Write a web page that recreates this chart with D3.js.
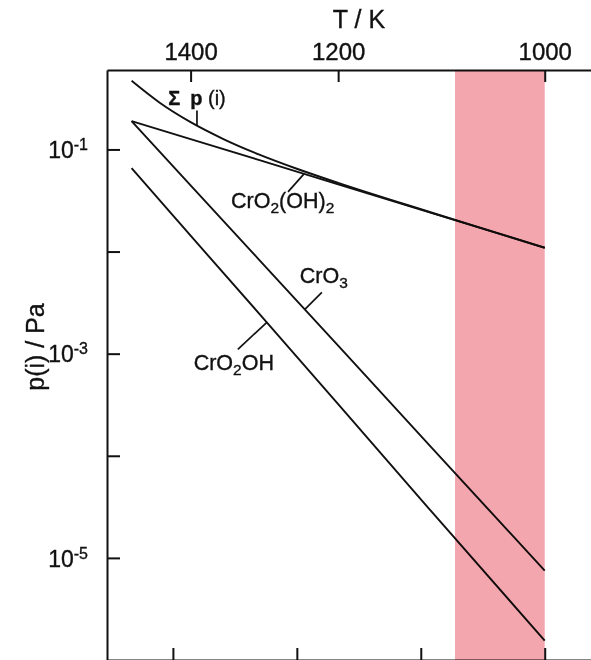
<!DOCTYPE html>
<html>
<head>
<meta charset="utf-8">
<script src="https://cdn.jsdelivr.net/npm/d3@7"></script>
<style>
  html, body { margin: 0; padding: 0; background: #fff; }
  svg { display: block; font-family: "Liberation Sans", Arial, Helvetica, sans-serif; }
  svg text { stroke: #111; stroke-width: 0.35px; }
</style>
</head>
<body>
<svg id="chart" width="591" height="660"></svg>
<script>
// ---- data ----
const temps = [1500, 1400, 1300, 1200, 1100, 1000];              // K
const pCrO2OH2 = [0.189, 0.126, 0.079, 0.0455, 0.0238, 0.0109];   // Pa
const pCrO3    = [0.189, 0.0445, 0.0084, 0.0012, 1.19e-4, 7.5e-6];
const pCrO2OH  = [0.0657, 0.0143, 0.0025, 3.2e-4, 2.8e-5, 1.55e-6];
const sumTemps = [1500, 1450, 1400, 1350, 1300, 1250, 1200, 1100, 1000];
const pSum     = [0.47, 0.285, 0.185, 0.1265, 0.0895, 0.0647, 0.047, 0.024, 0.0109];
const xTicks = [1400, 1200, 1000];
const xTickLabels = ["1400", "1200", "1000"];
const xMinorTicks = [7, 8, 9, 10];          // 10^4 K / T (bottom axis)
const yTicks = [1e-1, 1e-2, 1e-3, 1e-4, 1e-5];
const yTickExp = ["-1", "", "-3", "", "-5"];
const shadeRange = [1078, 1000];            // K

(function () {
const svg = d3.select("#chart");
const mLeft = 107, mRight = 591, mTop = 70, mBottom = 660;

// x: linear in 10^4/T
const xs = d3.scaleLinear().domain([1e4 / 1546, 1e4 / 964]).range([mLeft, mRight]);
const x = T => xs(1e4 / T);
const y = d3.scaleLog().domain([1e-6, Math.pow(10, -0.222)]).range([mBottom, mTop]);

const lineGen = d3.line().x(d => x(d[0])).y(d => y(d[1])).curve(d3.curveMonotoneX);
const series = [pCrO2OH2, pCrO3, pCrO2OH].map(vals => temps.map((t, i) => [t, vals[i]]));
const sumSeries = sumTemps.map((t, i) => [t, pSum[i]]);

const plot = svg.append("g");
const lineStyle = sel => sel.attr("fill", "none").attr("stroke", "#111").attr("stroke-width", 1.9);
series.forEach(s => plot.append("path").datum(s).attr("d", d3.line().x(d => x(d[0])).y(d => y(d[1]))).call(lineStyle));
plot.append("path").datum(sumSeries).attr("d", lineGen).call(lineStyle);

// axes
const topAxis = d3.axisTop(xs)
  .tickValues(xTicks.map(t => 1e4 / t))
  .tickFormat((d, i) => xTickLabels[i])
  .tickSizeInner(-12).tickSizeOuter(0).tickPadding(10);
const gTop = svg.append("g").attr("transform", `translate(0,${mTop})`).call(topAxis);
gTop.selectAll("text").attr("font-size", 24).attr("fill", "#111").attr("font-family", "Liberation Sans, Arial, sans-serif");

const botAxis = d3.axisBottom(xs).tickValues(xMinorTicks).tickFormat("").tickSizeInner(-12).tickSizeOuter(0);
svg.append("g").attr("transform", `translate(0,${mBottom})`).call(botAxis);

const leftAxis = d3.axisLeft(y).tickValues(yTicks).tickFormat("").tickSizeInner(-13).tickSizeOuter(0);
const gLeft = svg.append("g").attr("transform", `translate(${mLeft},0)`).call(leftAxis);

svg.selectAll(".domain, .tick line").attr("stroke", "#111").attr("stroke-width", 2);

// y tick labels with superscripts
gLeft.selectAll(".tick").each(function (d, i) {
  if (!yTickExp[i]) return;
  const t = d3.select(this).append("text")
    .attr("x", -19).attr("dy", "0.36em")
    .attr("text-anchor", "end").attr("fill", "#111")
    .attr("font-size", 23).attr("font-family", "Liberation Sans, Arial, sans-serif");
  t.append("tspan").text("10");
  t.append("tspan").attr("dy", "-0.5em").attr("font-size", 16).text(yTickExp[i]);
});

// axis titles
svg.append("text").attr("x", 359).attr("y", 28).attr("text-anchor", "middle")
  .attr("font-size", 25).attr("fill", "#111").text("T / K");
svg.append("text").attr("transform", "translate(44,347) rotate(-90)").attr("text-anchor", "middle")
  .attr("font-size", 25).attr("fill", "#111").text("p(i) / Pa");

// annotations
function valAt(s, T) {
  const u = 1e4 / T;
  for (let i = 0; i < s.length - 1; i++) {
    const u0 = 1e4 / s[i][0], u1 = 1e4 / s[i + 1][0];
    if (u >= u0 && u <= u1) {
      const f = (u - u0) / (u1 - u0);
      return Math.pow(10, Math.log10(s[i][1]) + f * (Math.log10(s[i + 1][1]) - Math.log10(s[i][1])));
    }
  }
  return s[s.length - 1][1];
}
const ann = [
  { s: sumSeries, T: 1390, dx: 0, dy: -15, parts: [["Σ", "b"], ["\u2002", false], ["p", "b"], [" (i)", false]], lx: 0, ly: -5, anchor: "middle", size: 20 },
  { s: series[0], T: 1241, dx: -16, dy: 18, parts: [["CrO", false], ["2", "sub"], ["(OH)", false], ["2", "sub"]], lx: -57, ly: 16, anchor: "start", size: 21.5 },
  { s: series[1], T: 1240, dx: 17, dy: -17, parts: [["CrO", false], ["3", "sub"]], lx: 2, ly: -9, anchor: "middle", size: 21.5 },
  { s: series[2], T: 1289, dx: -29, dy: 27, parts: [["CrO", false], ["2", "sub"], ["OH", false]], lx: -4, ly: 21, anchor: "middle", size: 21.5 }
];
ann.forEach(a => {
  const px = x(a.T), py = y(valAt(a.s, a.T));
  const ex = px + a.dx, ey = py + a.dy;
  svg.append("line").attr("x1", px).attr("y1", py).attr("x2", ex).attr("y2", ey)
    .attr("stroke", "#111").attr("stroke-width", 1.7);
  const t = svg.append("text").attr("x", ex + a.lx).attr("y", ey + a.ly)
    .attr("text-anchor", a.anchor).attr("font-size", a.size).attr("fill", "#111");
  let shifted = false;
  a.parts.forEach(([txt, kind]) => {
    const sp = t.append("tspan").text(txt);
    if (kind === "sub") { sp.attr("dy", 5).attr("font-size", a.size * 0.72); shifted = true; }
    else {
      if (shifted) { sp.attr("dy", -5); shifted = false; }
      if (kind === "b") sp.attr("font-weight", "bold");
    }
  });
});

// shaded temperature band (multiplied over the drawing)
svg.append("rect")
  .attr("x", x(shadeRange[0])).attr("y", mTop)
  .attr("width", x(shadeRange[1]) - x(shadeRange[0])).attr("height", mBottom - mTop)
  .attr("fill", "#f3a6ae").style("mix-blend-mode", "multiply");
})();
</script>
</body>
</html>
